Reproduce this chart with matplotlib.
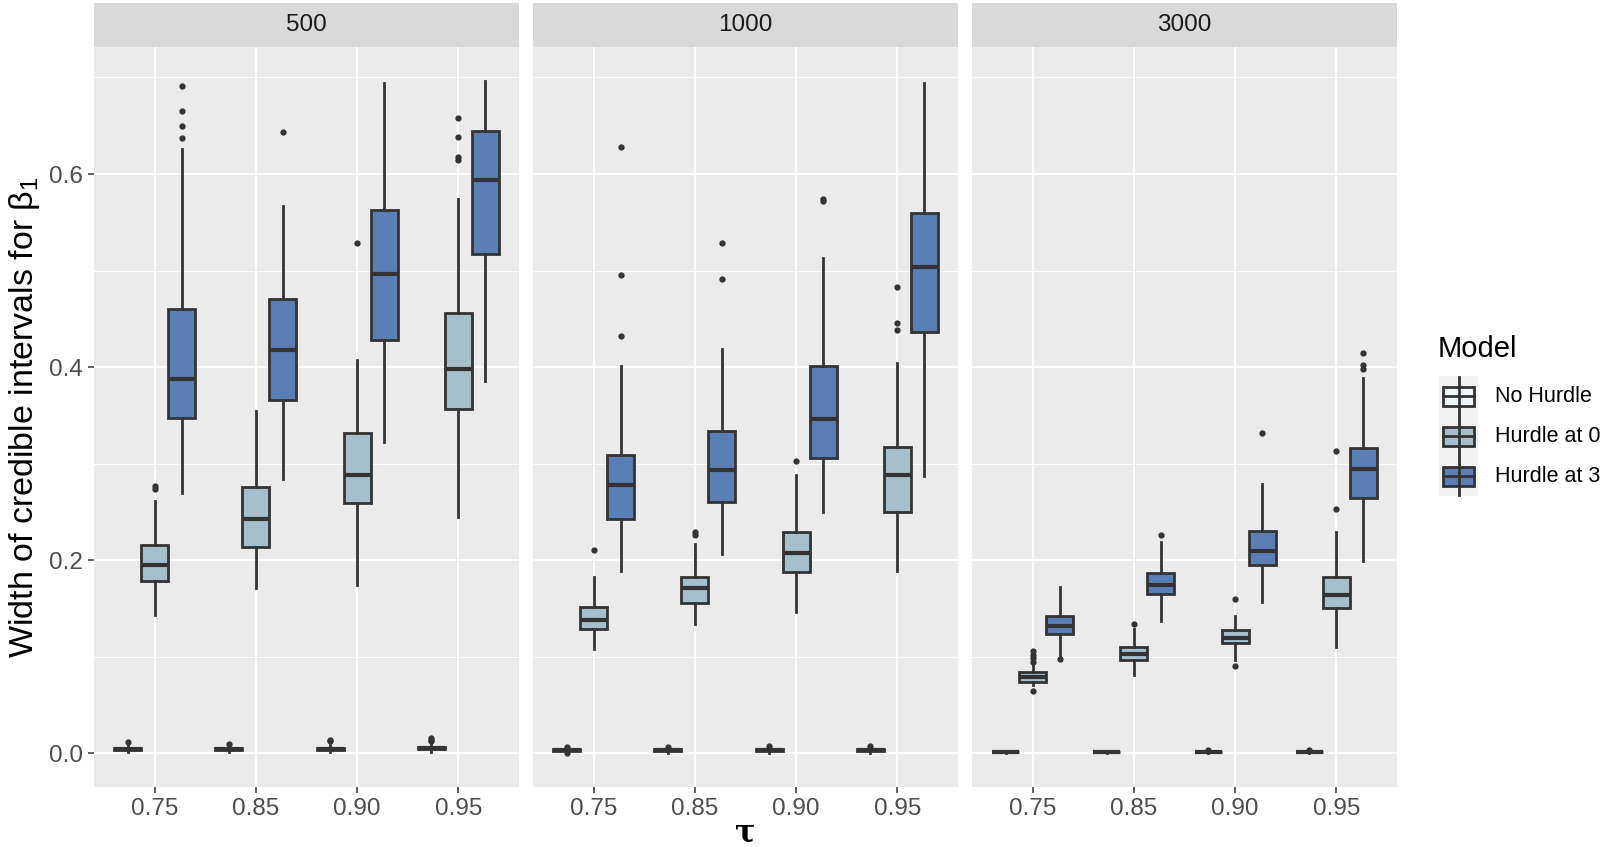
import numpy as np
import matplotlib
matplotlib.use("Agg")
import matplotlib.pyplot as plt
from matplotlib.patches import Rectangle

plt.rcParams['font.family'] = ['Liberation Sans', 'DejaVu Sans']

# categories
taus = ["0.75", "0.85", "0.90", "0.95"]
sizes = ["500", "1000", "3000"]
models = ["No Hurdle", "Hurdle at 0", "Hurdle at 3"]
fills = ["#eef6f9", "#a5bfcd", "#5a7fb6"]
line_col = "#333333"

# box stats, one list per model (No Hurdle, Hurdle at 0, Hurdle at 3), values for each tau
# n = 500
wlo_500 = [[0.001, 0.001, 0.001, 0.001], [0.143, 0.171, 0.174, 0.245], [0.269, 0.284, 0.322, 0.386]]
q1_500 = [[0.003, 0.003, 0.003, 0.004], [0.178, 0.214, 0.259, 0.356], [0.347, 0.366, 0.428, 0.517]]
med_500 = [[0.004, 0.004, 0.004, 0.005], [0.195, 0.242, 0.288, 0.398], [0.388, 0.418, 0.496, 0.594]]
q3_500 = [[0.005, 0.005, 0.005, 0.006], [0.216, 0.276, 0.332, 0.456], [0.460, 0.470, 0.563, 0.645]]
whi_500 = [[0.008, 0.007, 0.008, 0.009], [0.261, 0.354, 0.407, 0.574], [0.626, 0.567, 0.694, 0.696]]
out_500 = [[[0.011], [0.009], [0.012, 0.014], [0.012, 0.014, 0.016]],
           [[0.274, 0.277], [], [0.528], [0.614, 0.618, 0.638, 0.658]],
           [[0.637, 0.650, 0.665, 0.691], [0.644], [], []]]

# n = 1000
wlo_1000 = [[0.0005, 0.0005, 0.0005, 0.0005], [0.108, 0.134, 0.146, 0.189], [0.189, 0.206, 0.250, 0.287]]
q1_1000 = [[0.002, 0.002, 0.002, 0.002], [0.129, 0.155, 0.188, 0.250], [0.243, 0.260, 0.306, 0.436]]
med_1000 = [[0.003, 0.003, 0.003, 0.003], [0.138, 0.171, 0.207, 0.288], [0.278, 0.293, 0.346, 0.504]]
q3_1000 = [[0.004, 0.004, 0.004, 0.004], [0.151, 0.182, 0.229, 0.317], [0.309, 0.334, 0.401, 0.560]]
whi_1000 = [[0.005, 0.005, 0.005, 0.005], [0.182, 0.217, 0.288, 0.404], [0.401, 0.419, 0.513, 0.694]]
out_1000 = [[[0.0, 0.006], [0.006], [0.007], [0.007]],
            [[0.210], [0.226, 0.229], [0.303], [0.438, 0.446, 0.483]],
            [[0.432, 0.495, 0.628], [0.491, 0.528], [0.572, 0.574], []]]

# n = 3000
wlo_3000 = [[0.0003, 0.0003, 0.0003, 0.0003], [0.070, 0.081, 0.096, 0.110], [0.102, 0.137, 0.157, 0.199]]
q1_3000 = [[0.0008, 0.0008, 0.0008, 0.0008], [0.074, 0.096, 0.114, 0.150], [0.123, 0.165, 0.195, 0.264]]
med_3000 = [[0.001, 0.001, 0.001, 0.001], [0.079, 0.103, 0.119, 0.164], [0.132, 0.174, 0.209, 0.294]]
q3_3000 = [[0.0015, 0.0015, 0.0015, 0.0015], [0.084, 0.110, 0.128, 0.182], [0.142, 0.187, 0.230, 0.316]]
whi_3000 = [[0.002, 0.002, 0.002, 0.002], [0.091, 0.129, 0.142, 0.229], [0.172, 0.219, 0.279, 0.389]]
out_3000 = [[[], [], [0.003], [0.003]],
            [[0.064, 0.094, 0.098, 0.102, 0.106], [0.134], [0.090, 0.160], [0.253, 0.313]],
            [[0.097], [0.226], [0.332], [0.398, 0.402, 0.414]]]

facet_data = {
    "500": (wlo_500, q1_500, med_500, q3_500, whi_500, out_500),
    "1000": (wlo_1000, q1_1000, med_1000, q3_1000, whi_1000, out_1000),
    "3000": (wlo_3000, q1_3000, med_3000, q3_3000, whi_3000, out_3000),
}

W, H = 1603, 847
fig = plt.figure(figsize=(W / 100, H / 100), dpi=100)

panel_left = [94, 533, 972]
panel_w = 425
panel_top, panel_bot = 47, 787
strip_top = 3

box_w = 0.8 / 3
offsets = [-box_w, 0, box_w]
lw = 2.0

for k, size in enumerate(sizes):
    x0 = panel_left[k] / W
    ax = fig.add_axes([x0, (H - panel_bot) / H, panel_w / W, (panel_bot - panel_top) / H])
    ax.set_facecolor("#ebebeb")
    for s in ax.spines.values():
        s.set_visible(False)
    ax.set_axisbelow(True)

    wlo, q1, med, q3, whi, outs = facet_data[size]
    for m in range(3):
        stats = [dict(whislo=wlo[m][i], q1=q1[m][i], med=med[m][i], q3=q3[m][i],
                      whishi=whi[m][i], fliers=outs[m][i]) for i in range(len(taus))]
        pos = np.arange(len(taus)) + offsets[m]
        ax.bxp(stats, positions=pos, widths=box_w, patch_artist=True, showcaps=False,
               manage_ticks=False,
               boxprops=dict(facecolor=fills[m], edgecolor=line_col, linewidth=lw),
               medianprops=dict(color=line_col, linewidth=3.0, solid_capstyle="butt"),
               whiskerprops=dict(color=line_col, linewidth=lw),
               flierprops=dict(marker="o", markerfacecolor=line_col, markeredgecolor=line_col,
                               markersize=3.5))

    ax.set_xlim(-0.6, len(taus) - 0.4)
    ax.set_ylim(-0.0352, 0.7316)
    ax.set_xticks(range(len(taus)))
    ax.set_xticklabels(taus)
    ax.set_yticks([0.0, 0.2, 0.4, 0.6])
    ax.set_yticks([0.1, 0.3, 0.5, 0.7], minor=True)
    ax.grid(which="major", color="white", linewidth=1.3)
    ax.grid(which="minor", axis="y", color="white", linewidth=0.65)
    ax.tick_params(which="minor", left=False, bottom=False)
    ax.tick_params(which="major", length=4, width=1.1, color=line_col,
                   labelcolor="#4d4d4d", labelsize=17.5, pad=4)
    if k == 0:
        ax.set_yticklabels(["0.0", "0.2", "0.4", "0.6"])
    else:
        ax.tick_params(axis="y", left=False, labelleft=False)

    # facet strip
    sax = fig.add_axes([x0, (H - panel_top) / H, panel_w / W, (panel_top - strip_top) / H])
    sax.set_facecolor("#d9d9d9")
    sax.set_xticks([])
    sax.set_yticks([])
    for s in sax.spines.values():
        s.set_visible(False)
    sax.text(0.5, 0.5, size, ha="center", va="center", fontsize=17.5, color="#1a1a1a",
             transform=sax.transAxes)

# axis titles
fig.text(25 / W, 1 - 417 / H, r"Width of credible intervals for $\mathregular{\beta_1}$",
         rotation=90, ha="center", va="center", fontsize=24.5)
fig.text(745 / W, 1 - 833 / H, "τ", ha="center", va="center", fontsize=22,
         family="DejaVu Serif", weight="bold")

# legend drawn in pixel coordinates
ov = fig.add_axes([0, 0, 1, 1])
ov.set_xlim(0, W)
ov.set_ylim(H, 0)
ov.axis("off")
ov.text(1438, 349, "Model", fontsize=21, va="center", ha="left")
for i, name in enumerate(models):
    yc = 396.5 + 40 * i
    ov.add_patch(Rectangle((1439, yc - 20), 39, 40, facecolor="#f2f2f2", edgecolor="none"))
    ov.plot([1458.5, 1458.5], [yc - 19, yc + 19], color=line_col, lw=lw)
    ov.add_patch(Rectangle((1443, yc - 9.5), 31, 19, facecolor=fills[i], edgecolor=line_col, lw=lw))
    ov.plot([1443, 1474], [yc, yc], color=line_col, lw=lw)
    ov.text(1495, yc, name, fontsize=15.5, va="center", ha="left")

fig.savefig("out.png", dpi=100)
